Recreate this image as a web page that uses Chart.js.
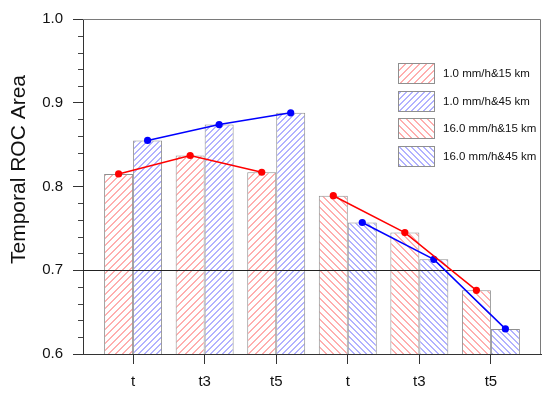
<!DOCTYPE html>
<html>
<head>
<meta charset="utf-8">
<script src="https://cdn.jsdelivr.net/npm/chart.js@4/dist/chart.umd.min.js"></script>
<style>
  html, body { margin: 0; padding: 0; background: #ffffff; }
  #wrap { width: 550px; height: 393px; }
</style>
</head>
<body>
<div id="wrap"><canvas id="c" width="550" height="393"></canvas></div>
<script>
// ---- data ----
const categories = ['t', 't3', 't5', 't', 't3', 't5'];
const seriesLabels = ['1.0 mm/h&15 km', '1.0 mm/h&45 km', '16.0 mm/h&15 km', '16.0 mm/h&45 km'];
const rain1km15 = [0.815, 0.837, 0.817];
const rain1km45 = [0.855, 0.874, 0.888];
const rain16km15 = [0.789, 0.745, 0.676];
const rain16km45 = [0.757, 0.713, 0.630];
const yMajorTicks = [0.6, 0.7, 0.8, 0.9, 1.0];
const yMinorTicks = [0.62, 0.64, 0.66, 0.68, 0.72, 0.74, 0.76, 0.78, 0.82, 0.84, 0.86, 0.88, 0.92, 0.94, 0.96, 0.98];
const refLineValue = 0.7;
const yTitle = 'Temporal ROC Area';

// ---- styling ----
const FONT = '"Liberation Sans", Arial, Helvetica, sans-serif';
const CAT_PCT = 0.81;
const RED = '#ff0000';
const BLUE = '#0000ff';

function hatch(color, spacing, dir) {
  const n = spacing * 2;
  const c = document.createElement('canvas');
  c.width = n; c.height = n;
  const g = c.getContext('2d');
  g.fillStyle = '#ffffff';
  g.fillRect(0, 0, n, n);
  g.strokeStyle = color;
  g.lineWidth = 1;
  g.beginPath();
  for (let k = -2; k <= 2; k++) {
    if (dir === '/') { g.moveTo(k * spacing + 0.5, n); g.lineTo(k * spacing + n + 0.5, 0); }
    else { g.moveTo(k * spacing + 0.5, 0); g.lineTo(k * spacing + n + 0.5, n); }
  }
  g.stroke();
  return g.createPattern(c, 'repeat');
}
const ctx = document.getElementById('c').getContext('2d');
const RED_H = 'rgb(255,95,95)';
const BLUE_H = 'rgb(100,100,255)';
const patterns = [
  hatch(RED_H, 7, '/'),
  hatch(BLUE_H, 6, '/'),
  hatch(RED_H, 7, '\\'),
  hatch(BLUE_H, 6, '\\')
];

// positions: first three categories at x = 1..3, last three at x = 4..6
function pts(vals, startIndex, shift) {
  return vals.map((v, i) => ({ x: startIndex + i + 1 + shift, y: v }));
}
const seriesValues = [rain1km15, rain1km45, rain16km15, rain16km45];
const seriesStart = [0, 0, 3, 3];
const seriesColor = [RED, BLUE, RED, BLUE];
const barShift = CAT_PCT / 4;
const lineShift = [-barShift, barShift, -barShift, barShift];

const datasets = [];
seriesValues.forEach((vals, k) => {
  datasets.push({
    type: 'bar',
    label: seriesLabels[k],
    data: pts(vals, seriesStart[k], 0),
    backgroundColor: patterns[k],
    borderColor: '#8f8f8f',
    borderWidth: 1,
    borderSkipped: 'start',
    categoryPercentage: CAT_PCT,
    barPercentage: 1,
    skipNull: true,
    order: 1
  });
});
seriesValues.forEach((vals, k) => {
  datasets.push({
    type: 'line',
    label: seriesLabels[k] + ' line',
    data: pts(vals, seriesStart[k], lineShift[k]),
    borderColor: seriesColor[k],
    backgroundColor: seriesColor[k],
    borderWidth: 1.5,
    pointRadius: 3.6,
    pointBorderWidth: 0,
    pointBackgroundColor: seriesColor[k],
    fill: false,
    tension: 0,
    order: 0
  });
});

const framePlugin = {
  id: 'frame',
  beforeDatasetsDraw(chart) { chart.$refDrawn = false; },
  beforeDatasetDraw(chart, args) {
    if (args.meta.type === 'line' && !chart.$refDrawn) {
      chart.$refDrawn = true;
      const a = chart.chartArea, y = Math.round(chart.scales.y.getPixelForValue(refLineValue)) + 0.5;
      const c = chart.ctx;
      c.save();
      c.strokeStyle = '#222';
      c.lineWidth = 1;
      c.beginPath(); c.moveTo(a.left, y); c.lineTo(a.right, y); c.stroke();
      c.restore();
    }
  },
  afterDraw(chart) {
    const a = chart.chartArea, c = chart.ctx, ys = chart.scales.y;
    c.save();
    // top and right frame
    c.strokeStyle = '#7a7a7a';
    c.lineWidth = 1;
    c.beginPath();
    c.moveTo(a.left, a.top + 0.5); c.lineTo(a.right - 0.5, a.top + 0.5); c.lineTo(a.right - 0.5, a.bottom);
    c.stroke();
    // minor ticks on y axis
    c.strokeStyle = '#444';
    c.beginPath();
    yMinorTicks.forEach(v => {
      const y = Math.round(ys.getPixelForValue(v)) + 0.5;
      c.moveTo(a.left - 5, y); c.lineTo(a.left, y);
    });
    c.stroke();
    // y axis title
    c.save();
    c.translate(19, (a.top + a.bottom) / 2 - 17);
    c.rotate(-Math.PI / 2);
    c.font = '21px ' + FONT;
    c.fillStyle = '#111';
    c.textAlign = 'center';
    c.textBaseline = 'middle';
    c.fillText(yTitle, 0, 0);
    c.restore();
    // legend
    const boxW = 36, boxH = 20, step = 27.7;
    const bx = a.right - 143, by0 = a.top + 44;
    c.font = '11.5px ' + FONT;
    c.textBaseline = 'middle';
    c.textAlign = 'left';
    chart.data.datasets.filter(d => d.type === 'bar').forEach((d, i) => {
      const by = Math.round(by0 + i * step);
      c.fillStyle = d.backgroundColor;
      c.fillRect(bx, by, boxW, boxH);
      c.strokeStyle = '#8f8f8f';
      c.strokeRect(bx + 0.5, by + 0.5, boxW, boxH);
      c.fillStyle = '#111';
      c.fillText(d.label, bx + boxW + 9, by + boxH / 2 + 1);
    });
    c.restore();
  }
};

new Chart(ctx, {
  data: { datasets },
  options: {
    responsive: false,
    animation: false,
    devicePixelRatio: 1,
    layout: { padding: { left: 0, right: 9, top: 11, bottom: 0 } },
    plugins: { legend: { display: false }, tooltip: { enabled: false } },
    scales: {
      x: {
        type: 'linear',
        min: 0.3,
        max: 6.7,
        offset: false,
        afterBuildTicks(scale) { scale.ticks = categories.map((_, i) => ({ value: i + 1 })); },
        afterFit(scale) { scale.height = 39; },
        ticks: {
          callback: (v) => categories[Math.round(v) - 1],
          font: { family: FONT, size: 15 },
          color: '#111',
          padding: 9,
          maxRotation: 0,
          autoSkip: false
        },
        grid: { offset: false, drawOnChartArea: false, drawTicks: true, tickLength: 10, tickColor: '#333' },
        border: { display: true, color: '#333', width: 1 }
      },
      y: {
        type: 'linear',
        min: 0.6,
        max: 1.0,
        afterBuildTicks(scale) { scale.ticks = yMajorTicks.map(v => ({ value: v })); },
        afterFit(scale) { scale.width = 83; },
        ticks: {
          callback: (v) => Number(v).toFixed(1),
          font: { family: FONT, size: 15 },
          color: '#111',
          padding: 10
        },
        grid: { drawOnChartArea: false, drawTicks: true, tickLength: 10, tickColor: '#333' },
        border: { display: true, color: '#333', width: 1 },
        title: { display: false }
      }
    }
  },
  plugins: [framePlugin]
});
</script>
</body>
</html>
